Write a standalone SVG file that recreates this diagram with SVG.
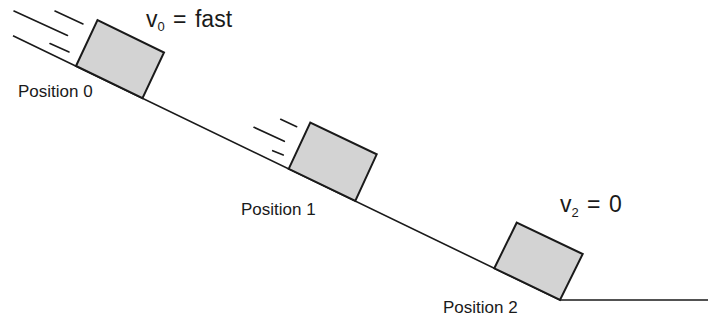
<svg xmlns="http://www.w3.org/2000/svg" width="716" height="320" viewBox="0 0 716 320">
<style>
.ground{fill:none;stroke:#1a1a1a;stroke-width:1.6}
.box{fill:#d3d3d3;stroke:#1a1a1a;stroke-width:2;stroke-linejoin:miter}
.speed{stroke:#1a1a1a;stroke-width:1.6;stroke-linecap:round}
.lbl{font-family:"Liberation Sans",Arial,sans-serif;font-size:17px;fill:#1a1a1a}
.vel{font-family:"Liberation Sans",Arial,sans-serif;font-size:23px;fill:#1a1a1a;word-spacing:2px}
.sub{font-size:13px}
</style>
<rect width="716" height="320" fill="#ffffff"/>
<g id="ground">
<polyline class="ground" points="13,35.8 560,300 708,300"/>
</g>
<g id="position0">
<polygon class="box" points="76,66 97.5,20 164,52.5 142.5,98.2"/>
<line class="speed" x1="14" y1="11" x2="67.5" y2="35.5"/>
<line class="speed" x1="55" y1="11" x2="83" y2="24"/>
<line class="speed" x1="50" y1="43.5" x2="69" y2="52"/>
<text class="lbl" x="18" y="97">Position 0</text>
<text class="vel" x="146" y="27">v<tspan class="sub" dy="4">0</tspan><tspan dy="-4"> = fast</tspan></text>
</g>
<g id="position1">
<polygon class="box" points="288.7,168.8 310.3,122.7 376.7,154.3 355.3,201"/>
<line class="speed" x1="280.7" y1="119.3" x2="296.7" y2="126.7"/>
<line class="speed" x1="254" y1="127.3" x2="284.3" y2="141.3"/>
<line class="speed" x1="272.7" y1="150.7" x2="283.3" y2="155"/>
<text class="lbl" x="241" y="215">Position 1</text>
</g>
<g id="position2">
<polygon class="box" points="494.3,268.3 516.7,222.7 582.7,254 560,300"/>
<text class="lbl" x="443" y="313">Position 2</text>
<text class="vel" x="560" y="212">v<tspan class="sub" dy="5">2</tspan><tspan dy="-5"> = 0</tspan></text>
</g>
</svg>
